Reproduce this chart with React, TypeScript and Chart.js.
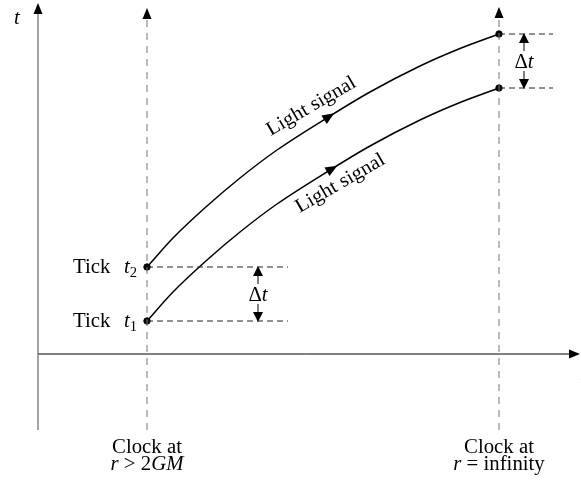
import React, { useEffect, useRef } from "react";
import { Chart, registerables } from "chart.js";

Chart.register(...registerables);

// ---- data (r = distance, t = time, arbitrary units) ----
const clockR = [10.9, 46.1];
const tickT = [3.3, 8.7]; // t1, t2 emitted at the near clock
const arrivalT = [26.6, 32.0]; // received at infinity
const upperR = [10.9, 13.5, 16.9, 20.2, 23.9, 29.2, 33.2, 38.2, 42.2, 46.1];
const upperT = [8.7, 11.6, 14.8, 17.6, 20.4, 23.8, 26.2, 28.8, 30.55, 32.0];
const lowerR = [10.9, 13.5, 16.9, 20.2, 23.9, 29.2, 33.2, 38.2, 42.2, 46.1];
const lowerT = [3.3, 6.2, 9.4, 12.2, 15.0, 18.4, 20.8, 23.4, 25.15, 26.6];
const arrowR = [29.2, 29.5];
const axisR = [0, 54.3];
const axisT = [-7.6, 35.0];
const clockTopT = [34.6, 34.7];
const tickLineEnd = 25.0;
const arrivalLineEnd = 51.5;
const deltaR = [22.0, 48.6];
const clockLabels = [
  ["Clock at", "r > 2GM"],
  ["Clock at", "r = infinity"],
];

const FONT = '"Liberation Serif", "DejaVu Serif", serif';
const SIZE = 20;
const STRETCH = 1.04;

type Seg = { t: string; i?: boolean; sub?: boolean };

function fontFor(s: Seg) {
  return `${s.i ? "italic " : ""}${s.sub ? 14 : SIZE}px ${FONT}`;
}

function drawRich(ctx: CanvasRenderingContext2D, segs: Seg[], x: number, y: number, align: "left" | "center") {
  let w = 0;
  for (const s of segs) {
    ctx.font = fontFor(s);
    w += ctx.measureText(s.t).width;
  }
  ctx.save();
  ctx.translate(x, y);
  ctx.scale(STRETCH, 1);
  let cx = align === "center" ? -w / 2 : 0;
  ctx.textAlign = "left";
  ctx.textBaseline = "alphabetic";
  for (const s of segs) {
    ctx.font = fontFor(s);
    ctx.fillText(s.t, cx, s.sub ? 4 : 0);
    cx += ctx.measureText(s.t).width;
  }
  ctx.restore();
}

function mathSegs(str: string): Seg[] {
  if (str === "r > 2GM") return [{ t: "r", i: true }, { t: " > 2" }, { t: "GM", i: true }];
  if (str === "r = infinity") return [{ t: "r", i: true }, { t: " = infinity" }];
  return [{ t: str }];
}

const diagramPlugin = {
  id: "diagram",
  afterDatasetsDraw(chart: any) {
    const ctx: CanvasRenderingContext2D = chart.ctx;
    const xs = chart.scales.x;
    const ys = chart.scales.y;
    const px = (r: number) => xs.getPixelForValue(r);
    const py = (t: number) => ys.getPixelForValue(t);
    ctx.save();
    ctx.fillStyle = "#000";
    const head = (x: number, y: number, ang: number, len = 11, half = 4.5) => {
      ctx.save();
      ctx.translate(x, y);
      ctx.rotate(ang);
      ctx.beginPath();
      ctx.moveTo(0, 0);
      ctx.lineTo(-len, -half);
      ctx.lineTo(-len, half);
      ctx.closePath();
      ctx.fillStyle = "#000";
      ctx.fill();
      ctx.restore();
    };
    // axis arrowheads
    head(px(0), py(axisT[1]) - 1, -Math.PI / 2);
    head(px(axisR[1]) - 1, py(0), 0);
    clockR.forEach((r, k) => head(px(r), py(clockTopT[k]), -Math.PI / 2));

    // arrows along the light signals
    const curves = [
      [upperR, upperT],
      [lowerR, lowerT],
    ];
    curves.forEach(([R, T], k) => {
      const a = arrowR[k];
      let j = 0;
      while (j < R.length - 2 && R[j + 1] < a) j++;
      const f = (a - R[j]) / (R[j + 1] - R[j]);
      const tt = T[j] + f * (T[j + 1] - T[j]);
      const x = px(a);
      const y = py(tt);
      const ang = Math.atan2(py(T[j + 1]) - py(T[j]), px(R[j + 1]) - px(R[j]));
      head(x + Math.cos(ang) * 5, y + Math.sin(ang) * 5, ang, 12, 5);
    });

    // delta t double arrows
    const pairs = [tickT, arrivalT];
    deltaR.forEach((r, k) => {
      const x = px(r);
      const yTop = py(pairs[k][1]);
      const yBot = py(pairs[k][0]);
      const mid = (yTop + yBot) / 2;
      head(x, yTop - 1, -Math.PI / 2, 10, 5);
      head(x, yBot + 1, Math.PI / 2, 10, 5);
      ctx.strokeStyle = "#000";
      ctx.lineWidth = 1;
      ctx.setLineDash([]);
      ctx.beginPath();
      ctx.moveTo(x, yTop + 8);
      ctx.lineTo(x, mid - 10);
      ctx.moveTo(x, mid + 10);
      ctx.lineTo(x, yBot - 8);
      ctx.stroke();
      drawRich(ctx, [{ t: "\u0394" }, { t: "t", i: true }], x, mid + 7, "center");
    });

    ctx.fillStyle = "#000";
    // t axis label and cut-off r label
    drawRich(ctx, [{ t: "t", i: true }], px(-2.1), py(33.0), "center");
    drawRich(ctx, [{ t: "r", i: true }], px(54.2), py(-2.6), "left");

    // tick labels
    tickT.forEach((t, k) => {
      drawRich(ctx, [{ t: "Tick" }], px(3.5), py(t) + 6, "left");
      drawRich(ctx, [{ t: "t", i: true }, { t: String(k + 1), sub: true }], px(8.6), py(t) + 6, "left");
    });

    // clock labels
    clockR.forEach((r, k) => {
      drawRich(ctx, mathSegs(clockLabels[k][0]), px(r), py(-9.9), "center");
      drawRich(ctx, mathSegs(clockLabels[k][1]), px(r), py(-11.6), "center");
    });

    // light signal labels
    const lbl = [
      [27.6, 24.3],
      [30.5, 16.6],
    ];
    lbl.forEach(([r, t]) => {
      ctx.save();
      ctx.translate(px(r), py(t));
      ctx.rotate((-30 * Math.PI) / 180);
      ctx.scale(STRETCH, 1);
      ctx.font = `${SIZE}px ${FONT}`;
      ctx.textAlign = "center";
      ctx.textBaseline = "alphabetic";
      ctx.fillText("Light signal", 0, 0);
      ctx.restore();
    });
    ctx.restore();
  },
};

function seg(x0: number, y0: number, x1: number, y1: number) {
  return [
    { x: x0, y: y0 },
    { x: x1, y: y1 },
  ];
}

export default function App() {
  const ref = useRef<HTMLCanvasElement>(null);
  useEffect(() => {
    const solid = (data: any, color: string, width = 1) => ({
      data,
      showLine: true,
      borderColor: color,
      borderWidth: width,
      pointRadius: 0,
      tension: 0,
      fill: false,
    });
    const dashed = (data: any, color: string, dash: number[]) => ({
      ...solid(data, color),
      borderDash: dash,
    });
    const curve = (R: number[], T: number[]) => ({
      ...solid(R.map((r, i) => ({ x: r, y: T[i] })), "#000", 1.5),
      cubicInterpolationMode: "monotone",
    });
    const chart = new Chart(ref.current as HTMLCanvasElement, {
      type: "scatter",
      data: {
        datasets: [
          solid(seg(0, axisT[0], 0, axisT[1] - 0.8), "#666", 1.2),
          solid(seg(axisR[0], 0, axisR[1] - 0.8, 0), "#000", 1),
          ...clockR.map((r, k) => dashed(seg(r, axisT[0], r, clockTopT[k] - 0.8), "#777", [7, 6])),
          ...tickT.map((t) => dashed(seg(clockR[0], t, tickLineEnd, t), "#222", [6, 4])),
          ...arrivalT.map((t) => dashed(seg(clockR[1], t, arrivalLineEnd, t), "#222", [6, 4])),
          curve(upperR, upperT),
          curve(lowerR, lowerT),
          {
            data: [
              ...tickT.map((t) => ({ x: clockR[0], y: t })),
              ...arrivalT.map((t) => ({ x: clockR[1], y: t })),
            ],
            pointRadius: 3.2,
            pointBackgroundColor: "#000",
            pointBorderColor: "#000",
            showLine: false,
          },
        ] as any,
      },
      options: {
        animation: false,
        responsive: false,
        maintainAspectRatio: false,
        layout: { padding: 0, autoPadding: false },
        events: [],
        plugins: { legend: { display: false }, tooltip: { enabled: false } },
        scales: {
          x: { type: "linear", display: false, min: -3.8, max: 54.3 },
          y: { type: "linear", display: false, min: -13, max: 35.4 },
        },
      },
      plugins: [diagramPlugin],
    });
    return () => chart.destroy();
  }, []);
  return (
    <div style={{ position: "fixed", left: 0, top: 0, width: 581, height: 484, background: "#fff" }}>
      <canvas ref={ref} width={581} height={484} style={{ display: "block" }} />
    </div>
  );
}
